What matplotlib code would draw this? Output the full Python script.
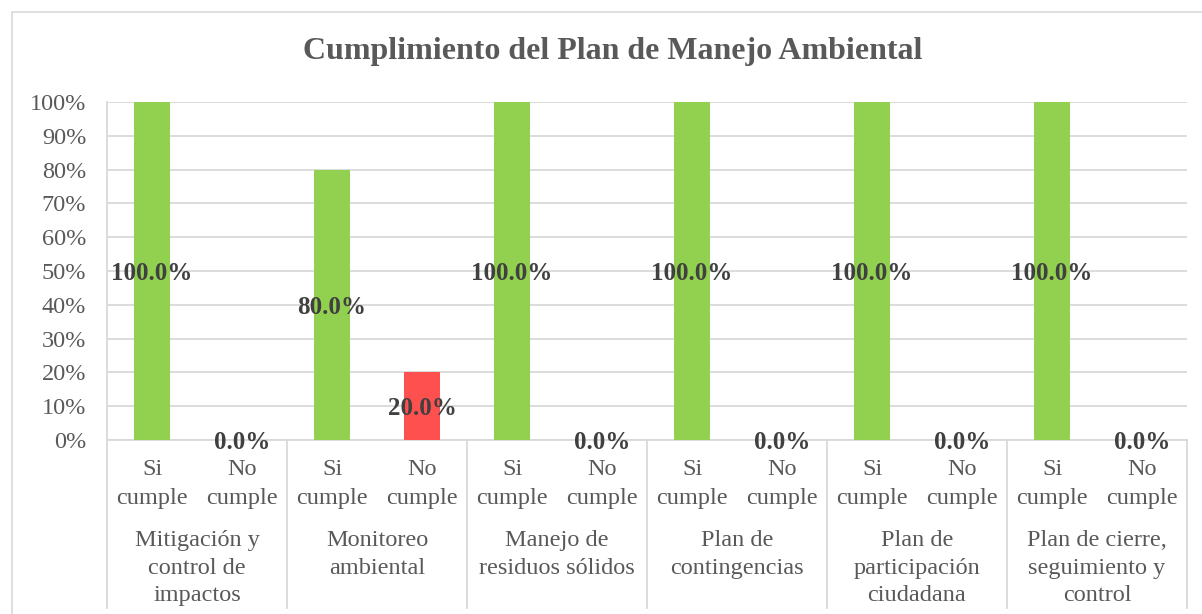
import matplotlib
matplotlib.use('Agg')
import matplotlib.pyplot as plt
from matplotlib.patches import Rectangle
import matplotlib.transforms as mtransforms

# datos del gráfico
grupos = ['Mitigación y\ncontrol de\nimpactos', 'Monitoreo\nambiental',
          'Manejo de\nresiduos sólidos', 'Plan de\ncontingencias',
          'Plan de\nparticipación\nciudadana', 'Plan de cierre,\nseguimiento y\ncontrol']
sub_labels = ['Si\ncumple', 'No\ncumple']
si_cumple = [1.0, 0.8, 1.0, 1.0, 1.0, 1.0]
no_cumple = [0.0, 0.2, 0.0, 0.0, 0.0, 0.0]
y_ticks = [0, 0.1, 0.2, 0.3, 0.4, 0.5, 0.6, 0.7, 0.8, 0.9, 1.0]

plt.rcParams['font.family'] = ['Liberation Serif', 'DejaVu Serif']

W, H = 1202, 614
fig = plt.figure(figsize=(W / 100, H / 100), dpi=100)

# marco exterior del gráfico (recortado a la derecha y abajo)
fig.patches.append(Rectangle((12 / W, -0.1), 1.2, 1 - 12 / H + 0.1,
                             transform=fig.transFigure, fill=False,
                             edgecolor='#d9d9d9', lw=1.2))

left, right, top, bottom = 107, 1187, 102, 440
ax = fig.add_axes([left / W, 1 - bottom / H, (right - left) / W, (bottom - top) / H])

gris = '#d9d9d9'
verde = '#92d050'
rojo = '#ff5050'

values = []
colors = []
for s, n in zip(si_cumple, no_cumple):
    values += [s, n]
    colors += [verde, rojo]
xs = list(range(len(values)))

ax.bar(xs, values, width=0.41, color=colors, zorder=3)

ax.set_xlim(-0.5, len(values) - 0.5)
ax.set_ylim(0, 1)
ax.set_yticks(y_ticks)
ax.set_yticklabels([f'{int(round(t * 100))}%' for t in y_ticks])
ax.tick_params(axis='y', length=0, pad=15, labelsize=17.5, labelcolor='#595959')
ax.set_xticks([])
ax.grid(axis='y', color=gris, lw=1.3, zorder=0)
for sp in ['top', 'right']:
    ax.spines[sp].set_visible(False)
for sp in ['left', 'bottom']:
    ax.spines[sp].set_color(gris)
    ax.spines[sp].set_linewidth(1.3)

# etiquetas de datos centradas en la barra
for x, v in zip(xs, values):
    ax.text(x, v / 2, f'{v * 100:.1f}%', ha='center', va='center_baseline',
            fontsize=18, fontweight='bold', color='#404040', zorder=4)

# ejes de categorías en dos niveles
trans = mtransforms.blended_transform_factory(ax.transData, fig.transFigure)
def fy(px):
    return 1 - px / H

for x in xs:
    ax.text(x, fy(484), sub_labels[x % 2], transform=trans, ha='center', va='center',
            fontsize=17.5, color='#595959', linespacing=1.45)

for i, g in enumerate(grupos):
    ax.text(2 * i + 0.5, fy(530), g, transform=trans, ha='center', va='top',
            fontsize=17.5, color='#595959', linespacing=1.42)

for k in range(len(grupos) + 1):
    xk = 2 * k - 0.5
    ax.plot([xk, xk], [fy(bottom), fy(608)], transform=trans, color=gris,
            lw=1.3, clip_on=False)

fig.text(613 / W, fy(51), 'Cumplimiento del Plan de Manejo Ambiental',
         ha='center', va='center', fontsize=23, fontweight='bold', color='#595959')

fig.savefig('out.png', dpi=100)
